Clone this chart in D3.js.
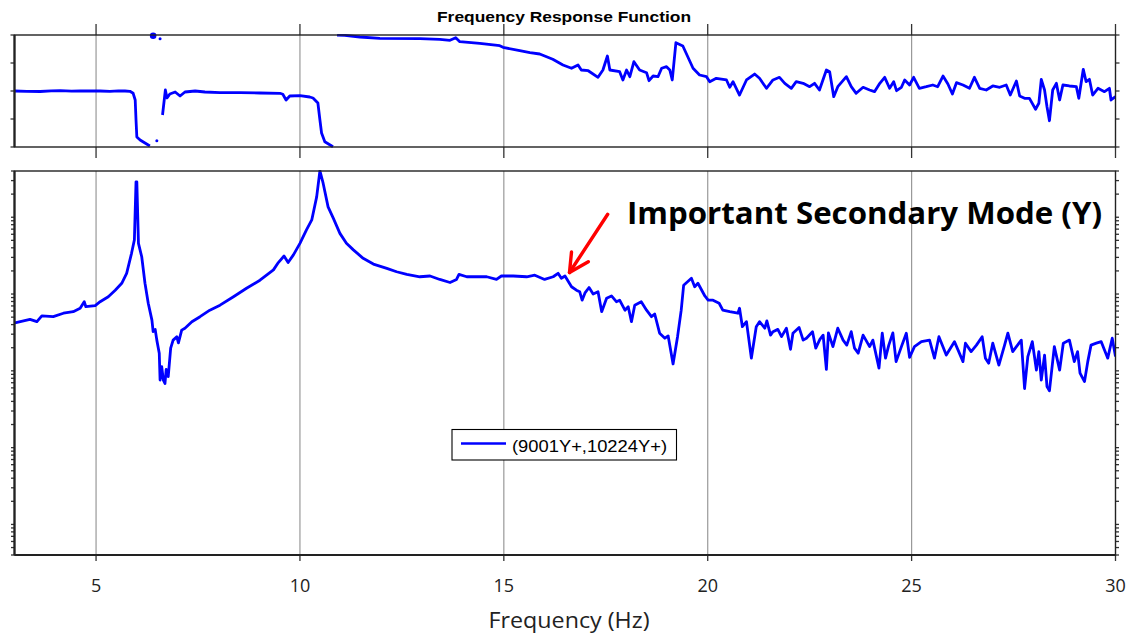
<!DOCTYPE html>
<html><head><meta charset="utf-8">
<script src="https://cdn.jsdelivr.net/npm/d3@7"></script>
<style>body{margin:0;background:#fff} svg{display:block}</style>
</head><body><svg id="c" width="1128" height="637"></svg>
<script>
// ---- DATA ----
const chartTitle = "Frequency Response Function";
const xTitle = "Frequency (Hz)";
const seriesName = "(9001Y+,10224Y+)";
const note = "Important Secondary Mode (Y)";
const xTicks = [5, 10, 15, 20, 25, 30];
const phaseTicks = [-180, -90, 0, 90, 180];

// magnitude (dB) vs frequency (Hz)
const magFreq = [
 3.01,3.38,3.55,3.67,3.95,4.20,4.44,4.61,4.71,4.75,
 4.98,5.10,5.30,5.47,5.63,5.75,5.87,5.94,5.98,6.00,
 6.04,6.12,6.20,6.28,6.37,6.40,6.45,6.49,6.55,6.57,
 6.61,6.65,6.69,6.72,6.77,6.83,6.89,6.98,7.02,7.10,
 7.18,7.35,7.55,7.79,8.04,8.37,8.69,9.02,9.35,9.47,
 9.61,9.71,9.84,10.00,10.16,10.29,10.41,10.49,10.57,10.69,
 10.82,10.98,11.14,11.31,11.55,11.80,12.13,12.37,12.62,12.94,
 13.19,13.43,13.68,13.84,13.90,14.09,14.33,14.58,14.82,14.94,
 15.23,15.56,15.76,16.00,16.21,16.33,16.41,16.50,16.66,16.78,
 16.86,16.92,16.99,17.09,17.19,17.31,17.40,17.52,17.64,17.76,
 17.84,17.97,18.05,18.13,18.21,18.37,18.50,18.62,18.70,18.82,
 18.95,19.03,19.15,19.26,19.35,19.41,19.60,19.68,19.76,19.93,
 20.01,20.13,20.28,20.37,20.54,20.74,20.78,20.85,20.95,21.07,
 21.19,21.27,21.40,21.45,21.54,21.60,21.72,21.81,21.93,22.03,
 22.09,22.24,22.34,22.42,22.57,22.65,22.75,22.83,22.91,22.96,
 23.07,23.19,23.32,23.41,23.52,23.60,23.69,23.81,23.97,24.05,
 24.20,24.28,24.36,24.44,24.54,24.62,24.75,24.87,24.95,25.07,
 25.24,25.44,25.56,25.67,25.85,26.05,26.14,26.26,26.32,26.46,
 26.59,26.73,26.81,26.89,26.99,27.14,27.28,27.36,27.48,27.57,
 27.69,27.77,27.85,27.96,28.06,28.12,28.18,28.26,28.32,28.38,
 28.50,28.63,28.72,28.87,28.99,29.07,29.13,29.24,29.32,29.40,
 29.53,29.65,29.73,29.81,29.92,30.00
];
const magDb = [
 -27.5,-26.6,-27.2,-25.7,-25.9,-25.0,-24.6,-23.7,-22.0,-23.3,
 -23.0,-22.0,-20.7,-19.0,-17.2,-14.6,-9.4,-5.9,9.2,9.2,
 -6.8,-10.3,-17.2,-22.4,-26.8,-29.8,-29.2,-32.0,-35.4,-42.4,
 -38.9,-42.4,-43.3,-39.6,-41.5,-34.1,-32.0,-31.1,-32.7,-29.4,
 -28.9,-27.2,-25.9,-24.2,-22.9,-20.7,-18.5,-16.4,-13.7,-11.8,
 -10.1,-11.8,-9.8,-6.8,-3.3,-0.7,5.3,12.1,8.8,2.7,
 -0.3,-4.2,-6.8,-8.5,-10.7,-12.2,-13.3,-14.2,-14.9,-15.5,
 -15.3,-16.2,-17.0,-16.2,-14.9,-15.5,-15.5,-15.5,-16.2,-15.3,
 -15.3,-15.5,-15.1,-16.2,-15.5,-14.6,-15.9,-15.3,-18.1,-19.0,
 -19.4,-21.6,-19.7,-18.3,-20.0,-19.4,-24.6,-21.1,-20.5,-22.0,
 -21.6,-24.2,-23.3,-27.2,-22.9,-22.0,-24.2,-25.9,-25.2,-30.2,
 -31.5,-30.9,-38.2,-31.1,-24.2,-17.7,-15.9,-18.1,-17.2,-20.5,
 -21.6,-21.6,-22.4,-24.2,-24.6,-25.0,-23.7,-28.5,-27.2,-36.7,
 -28.5,-27.2,-28.9,-27.0,-30.7,-29.8,-29.2,-31.1,-28.9,-34.4,
 -30.2,-28.7,-32.0,-31.5,-29.8,-34.1,-31.8,-30.7,-39.6,-30.1,
 -33.7,-28.9,-32.0,-33.3,-29.8,-34.1,-35.4,-30.7,-33.7,-32.0,
 -39.3,-30.2,-36.7,-33.3,-30.1,-37.6,-33.7,-30.2,-36.5,-33.7,
 -32.4,-32.0,-36.7,-31.1,-35.9,-32.4,-34.6,-37.6,-32.8,-35.0,
 -33.3,-31.1,-36.7,-38.0,-32.8,-38.5,-33.3,-30.2,-35.0,-33.7,
 -32.0,-44.6,-36.3,-32.4,-39.8,-35.0,-42.4,-35.9,-44.1,-45.2,
 -33.7,-39.8,-32.8,-32.0,-37.6,-35.0,-40.6,-42.8,-37.6,-33.3,
 -32.8,-32.4,-34.6,-36.7,-31.5,-36.3
];

// phase (deg) vs frequency (Hz); null = wrap break
const phaseFreq = [
 3.01,3.30,3.63,3.90,4.12,4.40,4.61,4.85,5.10,5.34,5.55,5.71,5.83,5.91,5.96,5.98,6.00,6.08,6.20,6.32, null,
 6.63,6.70,6.74,6.81,6.94,7.06,7.18,7.43,7.67,8.04,8.53,9.02,9.51,9.58,9.66,9.75,10.00,10.24,10.32,10.44,10.49,10.53,10.61,10.81, null,
 10.91,11.10,11.47,11.96,12.94,13.43,13.68,13.82,13.92,14.41,14.90,14.98,15.39,15.64,15.88,16.20,16.45,16.66,16.82,16.90,
 17.07,17.31,17.43,17.54,17.60,17.84,17.92,18.01,18.09,18.19,18.33,18.50,18.56,18.66,18.78,18.87,18.99,19.07,19.13,19.22,
 19.39,19.64,19.80,19.97,20.05,20.21,20.46,20.54,20.62,20.78,20.95,21.15,21.27,21.44,21.60,21.76,21.89,22.05,22.17,22.34,
 22.50,22.62,22.74,22.91,22.99,23.09,23.19,23.40,23.52,23.64,23.81,23.97,24.09,24.22,24.34,24.46,24.56,24.63,24.75,24.83,
 24.95,25.05,25.19,25.36,25.52,25.64,25.77,25.89,26.00,26.10,26.26,26.42,26.54,26.67,26.83,26.99,27.16,27.32,27.42,27.57,
 27.65,27.77,27.89,28.04,28.12,28.18,28.26,28.32,28.38,28.46,28.55,28.63,28.71,28.87,29.04,29.10,29.21,29.28,29.36,29.44,
 29.57,29.73,29.85,29.89,30.00
];
const phaseDeg = [
 0,-1.0,-1.6,0.5,1.0,-0.5,0,0.5,0,-1.0,0.5,0,-1.0,-7.4,-28.9,-93.2,-147.9,-157.5,-167.1,-176.8, null,
 -77.1,3.2,-22.5,-9.6,-3.2,-16.1,-3.2,0,-3.2,-5.5,-5.5,-6.4,-7.4,-10.6,-28.9,-16.1,-15.1,-19.3,-22.5,-38.6,-93.2,-135.0,-163.0,-179.0, null,
 180,179,173.6,169.4,168.1,166.2,163.0,171.3,158.4,153.3,145.6,140.5,129.5,123.1,118.9,101.9,83.6,73.0,83.6,67.5,
 65.2,44.0,67.5,112.5,67.5,62.0,35.4,67.5,46.0,94.2,67.5,58.8,33.1,48.2,46.0,73.0,78.1,67.5,35.4,155.2,
 144.6,73.0,51.4,46.0,29.9,40.8,35.4,11.9,29.9,-12.9,35.4,54.6,40.8,8.7,35.4,44.0,24.7,8.7,29.9,24.7,
 13.8,24.7,3.2,67.5,62.0,-18.3,13.8,46.0,13.8,-7.4,11.9,3.2,-2.2,24.7,44.0,8.7,29.9,1.0,11.9,35.4,
 19.3,44.0,8.7,13.8,19.3,13.8,48.2,22.5,-9.6,26.7,19.3,8.7,44.0,8.7,3.2,16.1,11.9,19.3,-12.9,32.1,
 -16.1,-23.5,-23.5,-58.8,-39.5,37.6,3.2,-50.5,-95.5,3.2,24.7,-28.9,19.3,16.1,13.8,-23.5,69.7,29.9,37.6,-12.9,
 8.7,-2.2,8.7,-28.9,-18.3
];
// isolated phase samples around the first mode
const dotFreq = [6.40, 6.57, 6.49];
const dotDeg = [177.7, 168.1, -159.7];

// ---- DRAWING ----
const svg = d3.select("#c");
const L = 14.5, R = 1115.5;
const pTop = 35, pBot = 147, mTop = 171, mBot = 555;
const blue = "#0000ff";
const lw = 2.8;

const x = d3.scaleLinear().domain([3, 30]).range([L, R]);
const yP = d3.scaleLinear().domain([-180, 180]).range([pBot, pTop]);
const yM = d3.scaleLinear().domain([20*Math.log10(4e-5), 20*Math.log10(4)]).range([mBot, mTop]);

const defs = svg.append("defs");
defs.append("clipPath").attr("id","cp").append("rect").attr("x",L).attr("y",pTop-1).attr("width",R-L).attr("height",pBot-pTop+2);
defs.append("clipPath").attr("id","cm").append("rect").attr("x",L).attr("y",mTop-1).attr("width",R-L).attr("height",mBot-mTop+2);

// gridlines and x ticks
const gx = xTicks.filter(t => t < 30);
svg.append("g").selectAll("line").data(gx).join("line")
  .attr("x1", d => x(d)).attr("x2", d => x(d)).attr("y1", pTop).attr("y2", pBot)
  .attr("stroke", "#999").attr("stroke-width", 1.2);
svg.append("g").selectAll("line").data(gx).join("line")
  .attr("x1", d => x(d)).attr("x2", d => x(d)).attr("y1", mTop).attr("y2", mBot)
  .attr("stroke", "#999").attr("stroke-width", 1.2);
const tickG = svg.append("g").attr("stroke", "#333").attr("stroke-width", 1.3);
xTicks.forEach(t => {
  tickG.append("line").attr("x1", x(t)).attr("x2", x(t)).attr("y1", pTop-11).attr("y2", pTop);
  tickG.append("line").attr("x1", x(t)).attr("x2", x(t)).attr("y1", pBot).attr("y2", pBot+11);
  tickG.append("line").attr("x1", x(t)).attr("x2", x(t)).attr("y1", mBot).attr("y2", mBot+6);
});

// phase y ticks
phaseTicks.forEach(t => {
  tickG.append("line").attr("x1", L-4).attr("x2", L).attr("y1", yP(t)).attr("y2", yP(t));
  tickG.append("line").attr("x1", R).attr("x2", R+4).attr("y1", yP(t)).attr("y2", yP(t));
});
// log ticks on magnitude axis (dB positions of 1..9 x 10^n)
const [d0, d1] = yM.domain();
const logTicks = [];
for (let n = -5; n <= 1; n++) for (let m = 1; m <= 9; m++) {
  const v = 20 * (n + Math.log10(m));
  if (v >= d0 - 1e-6 && v <= d1 + 1e-6) logTicks.push(v);
}
logTicks.forEach(t => {
  tickG.append("line").attr("x1", L-3.5).attr("x2", L).attr("y1", yM(t)).attr("y2", yM(t));
  tickG.append("line").attr("x1", R).attr("x2", R+3.5).attr("y1", yM(t)).attr("y2", yM(t));
});

// phase curve
const phaseData = phaseFreq.map((f, i) => ({f, p: phaseDeg[i]}));
svg.append("path").attr("clip-path","url(#cp)")
  .attr("d", d3.line().defined(d => d.f !== null && d.p !== null).x(d => x(d.f)).y(d => yP(d.p))(phaseData))
  .attr("fill","none").attr("stroke",blue).attr("stroke-width",lw).attr("stroke-linejoin","round");
const dotR = [3.3, 1.5, 1.5];
svg.append("g").selectAll("circle").data(dotFreq.map((f,i)=>({f,p:dotDeg[i],i}))).join("circle")
  .attr("cx", d => x(d.f)).attr("cy", d => yP(d.p)).attr("r", d => dotR[d.i]).attr("fill", blue);

// magnitude curve
const magData = magFreq.map((f, i) => ({f, m: magDb[i]}));
svg.append("path").attr("clip-path","url(#cm)")
  .attr("d", d3.line().x(d => x(d.f)).y(d => yM(d.m))(magData))
  .attr("fill","none").attr("stroke",blue).attr("stroke-width",lw).attr("stroke-linejoin","round");

// frames
const fr = svg.append("g").attr("fill","none").attr("stroke","#222");
fr.append("rect").attr("x",L).attr("y",pTop).attr("width",R-L).attr("height",pBot-pTop).attr("stroke-width",1.4);
fr.append("rect").attr("x",L).attr("y",mTop).attr("width",R-L).attr("height",mBot-mTop).attr("stroke-width",1.4);
fr.append("line").attr("x1",L).attr("x2",L).attr("y1",pTop).attr("y2",pBot).attr("stroke-width",2.2);
fr.append("line").attr("x1",L).attr("x2",L).attr("y1",mTop).attr("y2",mBot).attr("stroke-width",2.2);
fr.append("line").attr("x1",L).attr("x2",R).attr("y1",mBot).attr("y2",mBot).attr("stroke-width",2);

// x tick labels
svg.append("g").selectAll("text").data(xTicks).join("text")
  .attr("x", d => x(d)).attr("y", 592).attr("text-anchor","middle")
  .attr("font-family","'Open Sans', sans-serif").attr("font-size",18).attr("fill","#222")
  .text(d => d);
svg.append("text").attr("x", 569).attr("y", 628).attr("text-anchor","middle")
  .attr("font-family","'Open Sans', sans-serif").attr("font-size",21).attr("fill","#222")
  .attr("textLength",161).attr("lengthAdjust","spacingAndGlyphs").text(xTitle);

// title
svg.append("text").attr("x", 564).attr("y", 21.5).attr("text-anchor","middle")
  .attr("font-family","'Liberation Sans', Arial, sans-serif").attr("font-weight","bold").attr("font-size",15)
  .attr("textLength",254).attr("lengthAdjust","spacingAndGlyphs").text(chartTitle);

// legend
const lg = svg.append("g");
lg.append("rect").attr("x",452).attr("y",429.5).attr("width",224.5).attr("height",30.5)
  .attr("fill","#fff").attr("stroke","#000").attr("stroke-width",1.1);
lg.append("line").attr("x1",461).attr("x2",506).attr("y1",443.5).attr("y2",443.5).attr("stroke",blue).attr("stroke-width",2.4);
lg.append("text").attr("x",512).attr("y",452).attr("font-family","'Liberation Sans', Arial, sans-serif")
  .attr("font-size",16.3).attr("fill","#000").attr("textLength",155).attr("lengthAdjust","spacingAndGlyphs").text(seriesName);

// annotation
svg.append("text").attr("x",627).attr("y",223.5).attr("font-family","'Open Sans', sans-serif")
  .attr("font-weight","bold").attr("font-size",30).attr("fill","#000")
  .attr("textLength",475).attr("lengthAdjust","spacingAndGlyphs").text(note);
const ar = svg.append("g").attr("stroke","#ff0000").attr("stroke-width",3.4).attr("fill","none").attr("stroke-linecap","round").attr("stroke-linejoin","round");
ar.append("line").attr("x1",607.7).attr("y1",214.3).attr("x2",569.5).attr("y2",272.5);
ar.append("polyline").attr("points","571.5,252 569.5,272.5 588.3,261.7");
</script></body></html>
